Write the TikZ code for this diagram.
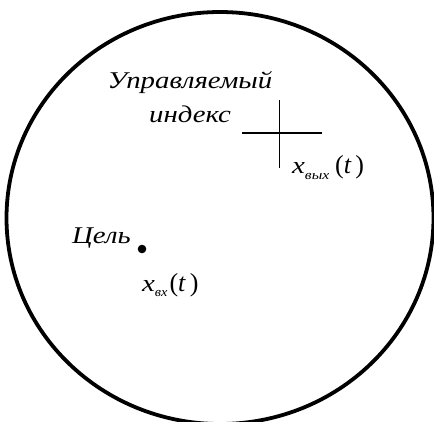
\documentclass[tikz,border=0pt]{standalone}
\usepackage{fontspec}
\setmainfont{Liberation Serif}
\newcommand{\argt}{{\fontsize{26}{28}\selectfont\upshape(\itshape t\,\upshape)}}
\begin{document}
\begin{tikzpicture}[x=1pt,y=-1pt,
  lbl/.style={inner sep=0pt,anchor=base west,font=\fontsize{24}{28}\selectfont\itshape}]
\useasboundingbox (0,0) rectangle (434,421);
\draw[line width=3.8pt] (220,218) ellipse [x radius=213.5, y radius=206];
\node[lbl,anchor=base] (u1) at (190,88) {\scalebox{1.2}[1]{Управляемый}};
\node[lbl,anchor=base] (u2) at (190,122) {\scalebox{1.2}[1]{индекс}};
\coordinate (vt) at (279.5,100);
\coordinate (vb) at (279.5,168);
\coordinate (hl) at (242,133);
\coordinate (hr) at (322,133);
\draw[line width=1.3pt] (vt) -- (vb);
\draw[line width=1.3pt] (hl) -- (hr);
\node[lbl] (xout) at (292,173) {\scalebox{1.2}[1]{x}\raisebox{-6pt}{\fontsize{13}{13}\selectfont\itshape\scalebox{1.2}[1]{вых}}\hspace{6pt}\argt};
\node[lbl] (goal) at (72,243) {\scalebox{1.2}[1]{Цель}};
\fill (142,249) circle [radius=4.3];
\node[lbl] (xin) at (142,291) {\scalebox{1.2}[1]{x}\raisebox{-5pt}{\fontsize{13}{13}\selectfont\itshape\scalebox{1.1}[1]{вх}}\hspace{2pt}\argt};
\end{tikzpicture}
\end{document}
